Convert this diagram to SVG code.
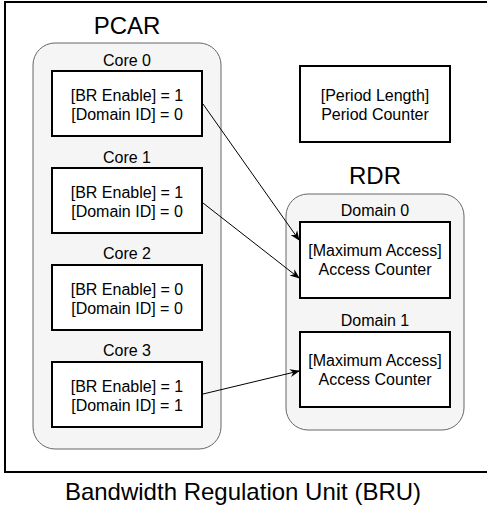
<svg xmlns="http://www.w3.org/2000/svg" width="487" height="510" viewBox="0 0 487 510">
  <style>
    text { font-family: "Liberation Sans", Arial, sans-serif; fill: #000; text-anchor: middle; }
    .title { font-size: 24px; }
    .lbl { font-size: 16px; }
    .group { fill: #f5f5f5; stroke: #666; stroke-width: 1; }
    .reg { fill: #fff; stroke: #000; stroke-width: 2; }
    .wire { fill: none; stroke: #000; stroke-width: 1; marker-end: url(#arrow); }
  </style>
  <defs>
    <marker id="arrow" viewBox="0 0 10 10" refX="9" refY="5" markerWidth="10" markerHeight="10" markerUnits="userSpaceOnUse" orient="auto">
      <path d="M0,1 L10,5 L0,9 L3,5 Z" fill="#000"/>
    </marker>
  </defs>
  <rect width="487" height="510" fill="#fff"/>

  <!-- BRU outline -->
  <g id="bru">
    <rect x="5" y="2" width="490" height="470" fill="none" stroke="#000" stroke-width="2"/>
    <text class="title" x="243" y="500">Bandwidth Regulation Unit (BRU)</text>
  </g>

  <!-- PCAR -->
  <g id="pcar">
    <text class="title" x="127" y="34">PCAR</text>
    <rect class="group" x="33" y="43" width="188" height="406" rx="22"/>
  </g>
  <g id="core0">
    <text class="lbl" x="127" y="66">Core 0</text>
    <rect class="reg" x="52" y="71" width="150" height="65"/>
    <text class="lbl" x="127" y="101">[BR Enable] = 1</text>
    <text class="lbl" x="127" y="120">[Domain ID] = 0</text>
  </g>
  <g id="core1">
    <text class="lbl" x="127" y="163">Core 1</text>
    <rect class="reg" x="52" y="168" width="150" height="65"/>
    <text class="lbl" x="127" y="198">[BR Enable] = 1</text>
    <text class="lbl" x="127" y="217">[Domain ID] = 0</text>
  </g>
  <g id="core2">
    <text class="lbl" x="127" y="259">Core 2</text>
    <rect class="reg" x="52" y="265" width="150" height="65"/>
    <text class="lbl" x="127" y="295">[BR Enable] = 0</text>
    <text class="lbl" x="127" y="314">[Domain ID] = 0</text>
  </g>
  <g id="core3">
    <text class="lbl" x="127" y="356">Core 3</text>
    <rect class="reg" x="52" y="362" width="150" height="65"/>
    <text class="lbl" x="127" y="392">[BR Enable] = 1</text>
    <text class="lbl" x="127" y="411">[Domain ID] = 1</text>
  </g>

  <!-- Period counter -->
  <g id="period">
    <rect class="reg" x="300" y="66" width="150" height="76"/>
    <text class="lbl" x="375" y="101">[Period Length]</text>
    <text class="lbl" x="375" y="120">Period Counter</text>
  </g>

  <!-- RDR -->
  <g id="rdr">
    <text class="title" x="375" y="184">RDR</text>
    <rect class="group" x="286" y="194" width="178" height="236" rx="22"/>
  </g>
  <g id="domain0">
    <text class="lbl" x="375" y="216">Domain 0</text>
    <rect class="reg" x="300" y="222" width="150" height="76"/>
    <text class="lbl" x="375" y="256">[Maximum Access]</text>
    <text class="lbl" x="375" y="275">Access Counter</text>
  </g>
  <g id="domain1">
    <text class="lbl" x="375" y="326">Domain 1</text>
    <rect class="reg" x="300" y="332" width="150" height="75"/>
    <text class="lbl" x="375" y="366">[Maximum Access]</text>
    <text class="lbl" x="375" y="385">Access Counter</text>
  </g>

  <!-- Connectors -->
  <g id="connectors">
    <line class="wire" x1="203" y1="104" x2="299" y2="240"/>
    <line class="wire" x1="203" y1="203" x2="299" y2="278"/>
    <line class="wire" x1="203" y1="394" x2="299" y2="371"/>
  </g>
</svg>
